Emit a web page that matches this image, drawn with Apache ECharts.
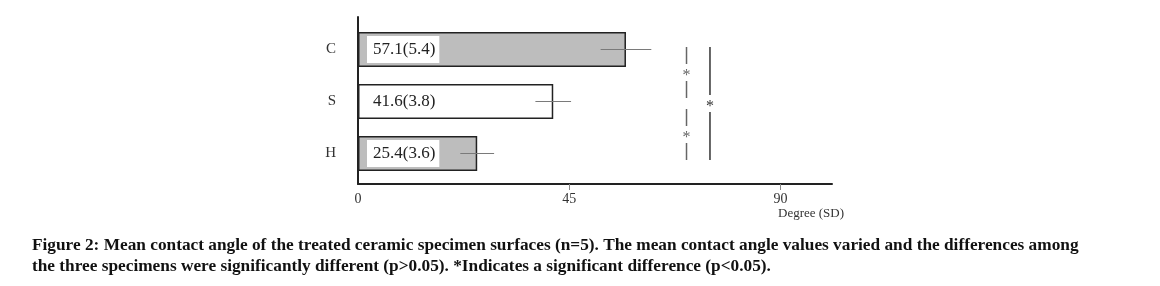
<!DOCTYPE html>
<html>
<head>
<meta charset="utf-8">
<script src="https://cdn.jsdelivr.net/npm/echarts@6/dist/echarts.min.js"></script>
<style>
  html, body { margin: 0; background: #fff; }
  #chart { width: 1160px; height: 286px; }
</style>
</head>
<body>
<div id="chart"></div>
<script>
// bottom to top, as on the axis
const categories = ['H', 'S', 'C'];
const means = [25.4, 41.6, 57.1];
const sds = [3.6, 3.8, 5.4];
const xTicks = [0, 45, 90];
const xMax = 101;
// significance brackets: [x (degree), upper category, lower category]
const pairBrackets = [[70, 'C', 'S'], [70, 'S', 'H']];
const overallBrackets = [[75, 'C', 'H']];
const caption = [
    'Figure 2: Mean contact angle of the treated ceramic specimen surfaces (n=5). The mean contact angle values varied and the differences among',
    'the three specimens were significantly different (p>0.05). *Indicates a significant difference (p<0.05).'
];

const serif = 'Liberation Serif';
const barColors = ['#bdbdbd', '#ffffff', '#bdbdbd'];

function catIndex(v) {
    return typeof v === 'number' ? v : categories.indexOf(v);
}

function bracketRenderer(color) {
    return function (params, api) {
        const x = api.value(0);
        const a = catIndex(api.value(1));
        const b = catIndex(api.value(2));
        const last = categories.length - 1;
        const ext = i => (i === 0 || i === last) ? 4.5 : -5.5;
        const pa = api.coord([x, a]);
        const pb = api.coord([x, b]);
        const y1 = pa[1] + 2 - ext(a);
        const y2 = pb[1] + 2 + ext(b);
        const mid = (y1 + y2) / 2;
        const style = { stroke: color, lineWidth: 1.5 };
        return {
            type: 'group',
            children: [
                { type: 'line', shape: { x1: pa[0], y1: y1, x2: pa[0], y2: mid - 8.5 }, style },
                { type: 'line', shape: { x1: pa[0], y1: mid + 8.5, x2: pa[0], y2: y2 }, style },
                {
                    type: 'text',
                    style: {
                        text: '*', x: pa[0], y: mid + 3,
                        align: 'center', verticalAlign: 'middle',
                        font: '16px "Liberation Serif"', fill: color
                    }
                }
            ]
        };
    };
}

const chart = echarts.init(document.getElementById('chart'));
chart.setOption({
    animation: false,
    title: {
        text: caption.join('\n'),
        left: 32,
        top: 235,
        padding: 0,
        textStyle: {
            fontFamily: serif,
            fontWeight: 'bold',
            fontSize: 17.3,
            lineHeight: 21,
            color: '#111'
        }
    },
    graphic: [{
        type: 'text',
        left: 778,
        top: 207,
        style: { text: 'Degree (SD)', font: '13px "Liberation Serif"', fill: '#333' }
    }],
    grid: [
        // axes frame
        { left: 358, right: 328, top: 17, bottom: 102 },
        // bars
        { left: 358, right: 328, top: 23.5, height: 156 }
    ],
    xAxis: [{
        gridIndex: 0,
        type: 'value',
        min: 0,
        max: xMax,
        splitLine: { show: false },
        axisLine: { show: true, onZero: false, lineStyle: { color: '#222', width: 2 } },
        axisTick: { show: true, customValues: xTicks.slice(1), length: 6, lineStyle: { color: '#888' } },
        axisLabel: {
            customValues: xTicks,
            margin: 8,
            fontFamily: serif,
            fontSize: 14,
            color: '#333'
        }
    }, {
        gridIndex: 1,
        type: 'value',
        min: 0,
        max: xMax,
        show: false
    }],
    yAxis: [{
        gridIndex: 0,
        type: 'value',
        min: 0,
        max: 1,
        splitLine: { show: false },
        axisTick: { show: false },
        axisLabel: { show: false },
        axisLine: { show: true, onZero: false, lineStyle: { color: '#222', width: 2 } }
    }, {
        gridIndex: 1,
        type: 'category',
        data: categories,
        axisLine: { show: false },
        axisTick: { show: false },
        axisLabel: { margin: 22, fontFamily: serif, fontSize: 15, color: '#333' }
    }],
    series: [{
        type: 'bar',
        xAxisIndex: 1,
        yAxisIndex: 1,
        barWidth: 35,
        data: means.map((v, i) => ({ value: v, itemStyle: { color: barColors[i] } })),
        itemStyle: { borderColor: '#222', borderWidth: 1.5 },
        label: {
            show: true,
            position: 'insideLeft',
            distance: 9,
            formatter: p => means[p.dataIndex].toFixed(1) + '(' + sds[p.dataIndex].toFixed(1) + ')',
            backgroundColor: '#fff',
            padding: [4, 4, 4, 6],
            lineHeight: 19,
            fontFamily: serif,
            fontSize: 17,
            color: '#222'
        }
    }, {
        // SD whiskers
        type: 'custom',
        xAxisIndex: 1,
        yAxisIndex: 1,
        encode: { x: [0, 1], y: 2 },
        data: means.map((m, i) => [m - sds[i], m + sds[i], categories[i]]),
        renderItem: function (params, api) {
            const c = catIndex(api.value(2));
            const p1 = api.coord([api.value(0), c]);
            const p2 = api.coord([api.value(1), c]);
            return {
                type: 'line',
                shape: { x1: p1[0], y1: p1[1], x2: p2[0], y2: p2[1] },
                style: { stroke: '#7a7a7a', lineWidth: 1 }
            };
        },
        z: 3
    }, {
        type: 'custom',
        xAxisIndex: 1,
        yAxisIndex: 1,
        encode: { x: 0, y: [1, 2] },
        data: pairBrackets,
        renderItem: bracketRenderer('#666')
    }, {
        type: 'custom',
        xAxisIndex: 1,
        yAxisIndex: 1,
        encode: { x: 0, y: [1, 2] },
        data: overallBrackets,
        renderItem: bracketRenderer('#333')
    }]
});
</script>
</body>
</html>
